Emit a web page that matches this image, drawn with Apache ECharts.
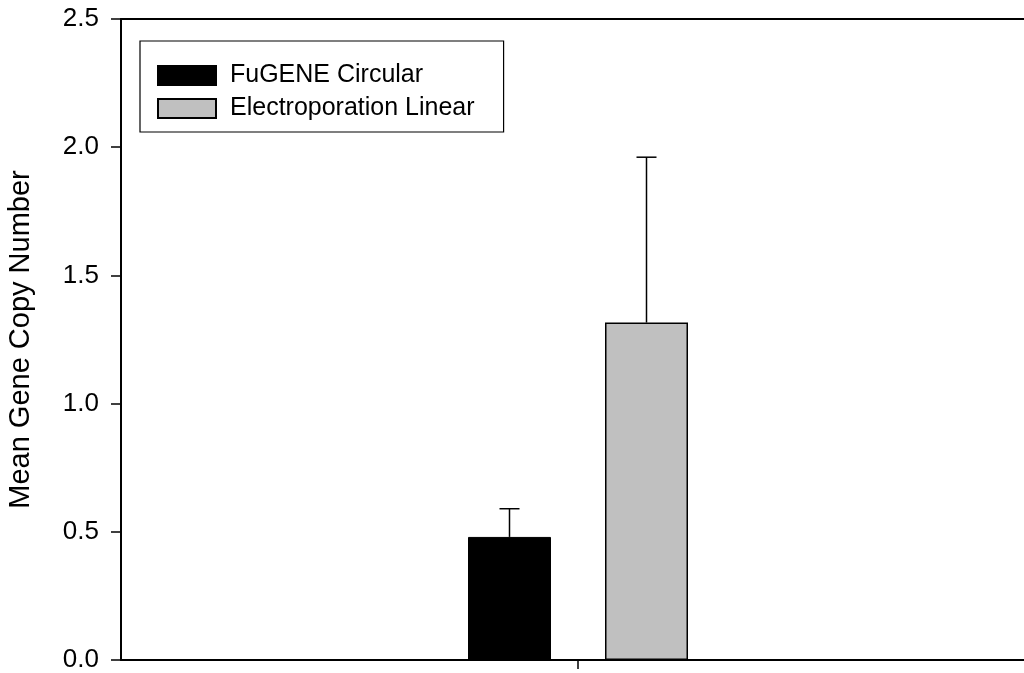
<!DOCTYPE html>
<html>
<head>
<meta charset="utf-8">
<script src="https://cdn.jsdelivr.net/npm/echarts@6/dist/echarts.min.js"></script>
<style>html,body{margin:0;padding:0;background:#fff;}#c{width:1024px;height:673px;}</style>
</head>
<body>
<div id="c"></div>
<script>
const categories = ['Group'];
const seriesNames = ['FuGENE Circular', 'Electroporation Linear'];
const fugeneMean = [0.48];
const fugeneErr = [0.11];
const electroMean = [1.316];
const electroErr = [0.645];
const yTicks = [0.0, 0.5, 1.0, 1.5, 2.0, 2.5];

const FONT = 'Liberation Sans, Arial, sans-serif';
const BAR_W = 83;
const BAR_GAP_PX = 54;
const OFF = (BAR_W + BAR_GAP_PX) / 2;

function errSeries(name, means, errs, sign) {
  return {
    type: 'custom',
    name: name + ' err',
    z: 3,
    silent: true,
    data: means.map((m, i) => [i, m, m + errs[i]]),
    renderItem: function (params, api) {
      const c = api.value(0);
      const p0 = api.coord([c, api.value(1)]);
      const p1 = api.coord([c, api.value(2)]);
      const x = p0[0] + sign * OFF;
      const st = { stroke: '#000', lineWidth: 1.5 };
      return {
        type: 'group',
        children: [
          { type: 'line', shape: { x1: x, y1: p0[1], x2: x, y2: p1[1] }, style: st },
          { type: 'line', shape: { x1: x - 10, y1: p1[1], x2: x + 10, y2: p1[1] }, style: st }
        ]
      };
    }
  };
}

const chart = echarts.init(document.getElementById('c'), null, { renderer: 'canvas' });
chart.setOption({
  animation: false,
  backgroundColor: '#fff',
  textStyle: { fontFamily: FONT },
  grid: { left: 121, width: 914, top: 19, bottom: 13, containLabel: false, outerBoundsMode: 'none' },
  legend: {
    left: 140, top: 41,
    orient: 'vertical',
    data: seriesNames,
    backgroundColor: '#fff',
    borderColor: '#000', borderWidth: 1.2,
    padding: [22, 29, 11, 17],
    itemWidth: 58, itemHeight: 19, itemGap: 8,
    icon: 'rect',
    textStyle: { fontSize: 25, color: '#000', fontFamily: FONT, lineHeight: 22, padding: [0, 0, 0, 9] }
  },
  xAxis: [{
    type: 'category',
    data: categories,
    position: 'bottom',
    axisLine: { lineStyle: { color: '#000', width: 2 } },
    axisTick: { show: true, length: 9, alignWithLabel: true, lineStyle: { color: '#000', width: 1.5 } },
    axisLabel: { show: false }
  }, {
    type: 'category',
    data: categories,
    position: 'top',
    axisLine: { lineStyle: { color: '#000', width: 2 } },
    axisTick: { show: false },
    axisLabel: { show: false }
  }],
  yAxis: {
    type: 'value',
    min: 0, max: 2.5, interval: 0.5,
    name: 'Mean Gene Copy Number',
    nameLocation: 'middle',
    nameRotate: 90,
    nameGap: 86,
    nameTextStyle: { fontSize: 29, color: '#000', fontFamily: FONT },
    axisLine: { show: true, lineStyle: { color: '#000', width: 2 } },
    axisTick: { show: true, length: 10, lineStyle: { color: '#000', width: 1.5 } },
    axisLabel: { fontSize: 26, color: '#000', margin: 22, fontFamily: FONT,
      formatter: v => yTicks.includes(v) ? v.toFixed(1) : '' },
    splitLine: { show: false }
  },
  series: [
    { name: seriesNames[0], type: 'bar', data: fugeneMean, barWidth: BAR_W, barGap: (BAR_GAP_PX / BAR_W * 100) + '%',
      itemStyle: { color: '#000', borderColor: '#000', borderWidth: 1 } },
    { name: seriesNames[1], type: 'bar', data: electroMean, barWidth: BAR_W,
      itemStyle: { color: '#c0c0c0', borderColor: '#000', borderWidth: 1.5 } },
    errSeries(seriesNames[0], fugeneMean, fugeneErr, -1),
    errSeries(seriesNames[1], electroMean, electroErr, 1)
  ]
});
</script>
</body>
</html>
